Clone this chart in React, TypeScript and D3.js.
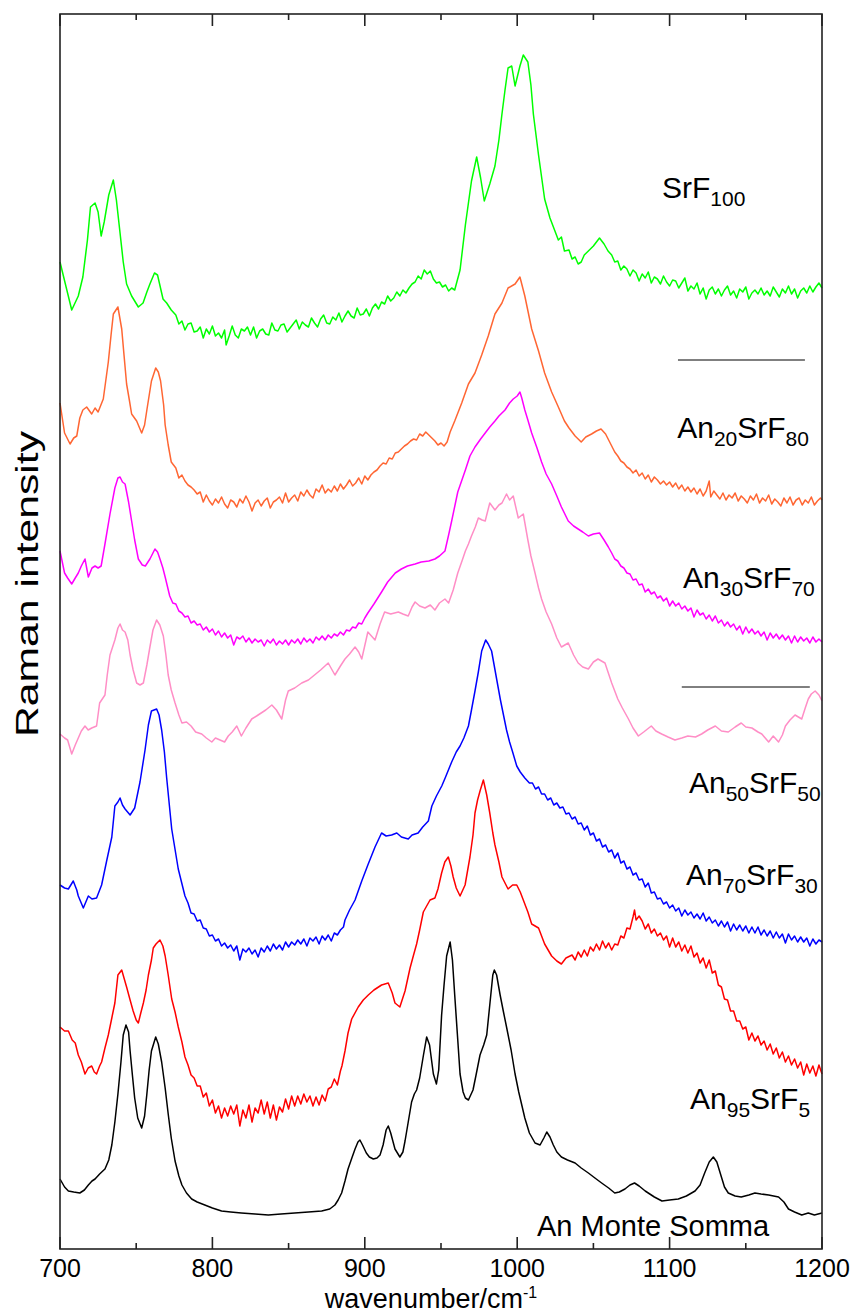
import React from "react";
import * as d3 from "d3";

const FONT = "'Liberation Sans', Arial, Helvetica, sans-serif";

// [wavenumber (cm-1), Raman intensity (arb., stacked)]
const srf100: [number, number][] = [
  [700,987],[704,962],[707.7,939],[712,953],[715,972],[718,1009],[720,1042],[723,1046],[725,1037],[727,1013],[729,1027],[732,1054],[735,1069],[737,1049],[739.4,1016],[741.5,987],[743.7,965],[747,953],[751.4,942],[754.5,946],[757,957],[759,965],[762,976],[764,974],[767.6,950],[770,946],[773,939],
  [776,934],[778,925],[780,928],[782,919],[784,925],[786,926],[788,917],[790,918],[792,922],[794,911],[796,920],[798,915],[800,923],[802,913],[804,916],[806,911],[808,919],[809,904],[811,913],[813,923],[815,914],[817,911],[819,920],[821,918],[823,922],[825,914],[827,922],[829,911],[831,918],[833,920],[835,915],[837,914],[839,926],[841,919],[843,918],[845,924],[847,925],[849,917],[851,921],[853,925],[855,929],[857,920],[859,927],[861,924],[863,922],[865,931],[867,926],[869,922],[871,930],[873,934],[875,926],[877,925],[879,932],[881,929],[883,936],[885,927],[887,933],[889,938],[891,933],[893,931],[895,941],[897,934],[899,935],[901,940],[903,933],[905,941],[907,945],[909,940],[911,947],[913,945],[915,953],[917,948],[919,951],[921,957],[923,953],[925,959],[927,956],[929,961],[931,965],[933,967],[935,973],[937,970],[939,979],[941,975],[943,978],[945,970],[947,966],[949,967],[951,962],[953,964],[955,958],[957,961],[959,959],
  [962.5,979],[966,1024],[970,1068],[973.4,1092],[976,1071],[978.4,1048],[982,1065],[985.4,1083],[988,1109],[990,1135],[992,1159],[994,1181],[996.4,1183],[998.6,1163],[1001.8,1183],[1004,1194],[1007,1187],[1009,1164],[1010.6,1135],[1014,1094],[1018,1050],[1021.5,1031],[1024,1021],[1027,1009],[1029,1012],[1031,998],[1034,999],[1036,990],[1038,992],[1040,985],[1042,987],[1044,994],[1046.7,998],[1050,1003],[1054,1011],[1057,1005],[1059.6,998],
  [1062,994],[1064,987],[1066,988],[1068,979],[1070,983],[1072,980],[1074,973],[1076,979],[1078,976],[1080,968],[1082,975],[1084,971],[1086,977],[1088,966],[1090,972],[1092,970],[1094,965],[1096,973],[1098,967],[1100,963],[1102,969],[1104,968],[1106,961],[1108,966],[1110,971],[1112,958],[1114,963],[1116,960],[1118,966],[1120,955],[1122,961],[1124,950],[1126,959],[1128,962],[1130,955],[1132,960],[1134,953],[1136,959],[1138,963],[1140,954],[1142,958],[1144,951],[1146,960],[1148,957],[1150,962],[1152,950],[1154,956],[1156,959],[1158,955],[1160,961],[1162,954],[1164,958],[1166,953],[1168,962],[1170,957],[1172,952],[1174,960],[1176,956],[1178,963],[1180,955],[1182,960],[1184,951],[1186,958],[1188,961],[1190,956],[1192,963],[1194,957],[1196,962],[1198,966],[1200,961]
];

const an20: [number, number][] = [
  [700,846],[703,816],[706.6,805],[709,811],[711,813],[713,831],[715,839],[717.5,842],[720.8,835],[723,841],[725,837],[728.4,850],[731.7,887],[733.5,914],[735,935],[738,942],[740.5,920],[742,894],[743.7,865],[745.5,849],[747,835],[750.3,828],[753.6,816],[755.5,824],[757,839],[760,868],[762.8,881],[764.5,877],[766,868],[768,844],[769,824],[771,804],[773,787],
  [776,781],[778,771],[780,774],[782,768],[784,764],[786,762],[788,759],[790,755],[792,757],[794,747],[796,754],[798,748],[800,744],[802,750],[804,746],[806,752],[808,745],[810,741],[812,749],[814,747],[816,742],[818,750],[820,746],[822,753],[824,747],[826,738],[828,746],[830,749],[832,743],[834,748],[836,751],[838,741],[840,747],[842,749],[844,752],[846,746],[848,756],[850,747],[852,751],[854,754],[856,748],[858,757],[860,753],[862,759],[864,754],[866,751],[868,760],[870,757],[872,764],[874,756],[876,760],[878,757],[880,763],[882,758],[884,765],[886,760],[888,764],[890,769],[892,763],[894,766],[896,771],[898,765],[900,773],[902,769],[904,774],[906,777],[908,779],[910,783],[912,786],[914,785],[916,791],[918,790],[920,796],[922,797],[924,800],[926,803],[928,805],[930,808],[932,810],[934,809],[936,815],[938,813],[940,817],[942,814],[944,811],[946,808],[948,804],[950,806],[952,803],[954,807],
  [956,817],[959,828],[963.6,846],[968,865],[972.3,876],[976.7,894],[981,913],[985.4,935],[990,946],[994,961],[998.6,965],[1001.8,972],[1005,953],[1009.5,920],[1014,898],[1018,876],[1022.6,857],[1027,842],[1031,828],[1034,821],[1038,813],[1042,807],[1045,812],[1048.8,815],[1052,818],[1055,820],[1058,815],
  [1062,803],[1064,797],[1066,793],[1068,788],[1070,786],[1072,782],[1074,780],[1076,776],[1078,779],[1080,773],[1082,776],[1084,770],[1086,774],[1088,767],[1090,772],[1092,769],[1094,765],[1096,768],[1098,764],[1100,767],[1102,762],[1104,766],[1106,760],[1108,764],[1110,758],[1112,762],[1114,757],[1116,761],[1118,755],[1120,760],[1122,753],[1124,758],[1126,768],[1127,752],[1129,758],[1131,754],[1133,750],[1135,756],[1137,749],[1139,754],[1141,751],[1143,756],[1145,748],[1147,753],[1149,750],[1151,746],[1153,753],[1155,749],[1157,755],[1159,746],[1161,751],[1163,748],[1165,754],[1167,745],[1169,750],[1171,747],[1173,743],[1175,751],[1177,746],[1179,752],[1181,744],[1183,749],[1185,751],[1187,744],[1189,749],[1191,746],[1193,752],[1195,744],[1197,748],[1199,751],[1200,749]
];

const an30: [number, number][] = [
  [700,698],[703,676],[705,671],[707.7,665],[710,671],[712,676],[714,683],[716.4,690],[718.6,672],[721,681],[723,683],[725,681],[727,683],[729.5,705],[732.8,735],[736,761],[738,771],[739.4,772],[741,767],[742.7,765],[745,747],[747,728],[749,709],[751.4,690],[754,684],[756,683],[759,690],[762.3,700],[764,697],[765.6,690],[767.5,681],[769,672],
  [772,653],[774,646],[776,645],[778,638],[780,636],[782,632],[784,633],[786,626],[788,628],[790,624],[792,625],[794,619],[796,622],[798,617],[800,620],[802,614],[804,618],[806,612],[808,616],[810,611],[812,614],[814,604],[816,612],[818,610],[820,613],[822,607],[824,611],[826,606],[828,610],[830,607],[832,609],[834,603],[836,609],[838,606],[840,610],[842,604],[844,608],[846,605],[848,609],[850,604],[852,609],[854,606],[856,610],[858,605],[860,611],[862,607],[864,610],[866,606],[868,612],[870,609],[872,613],[874,609],[876,614],[878,611],[880,615],[882,613],[884,617],[886,614],[888,619],[890,618],[892,622],[894,621],[896,626],[898,625],[900,631],
  [902,636],[906,645],[911,657],[915,667],[920,676],[924,680],[928,683],[933,685],[937,687],[942,688],[946,690],[949,693],[952.6,698],[955,714],[957,728],[961,757],[966,779],[969,793],[972.3,802],[976,810],[979,816],[982,822],[985.4,828],[988,833],[992,839],[995,846],[997.4,850],[1000,853],[1001.8,857],[1003,851],[1005,839],[1007,829],[1009.5,816],[1013,801],[1016,787],[1019,775],[1022.6,765],[1026,753],[1029,742],[1033.5,728],[1037,723],[1040,720],[1043,717],[1046.7,713],[1050,715],[1054,716],[1057,709],[1059.8,702],
  [1062,696],[1064,690],[1066,688],[1068,683],[1070,681],[1072,676],[1074,675],[1076,669],[1078,670],[1080,664],[1082,665],[1084,657],[1086,660],[1088,655],[1090,657],[1092,651],[1094,653],[1096,648],[1098,651],[1100,643],[1102,648],[1104,643],[1106,646],[1108,640],[1110,643],[1112,638],[1114,641],[1116,632],[1118,639],[1120,634],[1122,636],[1124,630],[1126,634],[1128,628],[1130,633],[1132,626],[1134,629],[1136,623],[1138,627],[1140,622],[1142,625],[1144,619],[1146,623],[1148,615],[1150,622],[1152,616],[1154,620],[1156,615],[1158,618],[1160,613],[1162,617],[1164,609],[1166,616],[1168,611],[1170,615],[1172,610],[1174,614],[1176,609],[1178,613],[1180,606],[1182,613],[1184,607],[1186,612],[1188,608],[1190,611],[1192,606],[1194,612],[1196,607],[1198,610],[1200,607]
];

const an50: [number, number][] = [
  [700,515],[703,511],[705,509],[707.7,495],[710,504],[712,511],[714,518],[716.4,523],[718.5,519],[720.8,521],[724,523],[726,546],[729.5,554],[731,574],[732.8,594],[736,609],[738,621],[739.4,625],[741,619],[742.7,617],[744.5,609],[746,594],[748,579],[750.3,566],[752.5,564],[754.7,566],[757,584],[759,602],[761,619],[763.4,629],[765.5,624],[767.8,613],[769.5,594],[771,574],[773,559],[775.5,546],[778,534],[780,526],[783,527],[786,523],[789,517],[793,515],[796,511],[799.6,507],[802,511],[805,509],[808,507],[810.4,513],[813,517],[816,523],[819,513],[822,521],[825.8,530],[829,533],[832,536],[835,539],[839,544],[842,539],[845.5,530],[848,549],[849.8,558],[854,561],[858.6,566],[863,569],[867,574],[871,579],[876,586],[880.4,574],[884,583],[887,590],[890,595],[893.6,602],[896,597],[898,590],[902,617],[906.7,609],[910,625],[913,637],[917,635],[922,637],[925,635],[928.5,633],[931,642],[933,647],[936,643],[939.5,641],[943,644],[946,639],[949,646],[952.6,650],[955,646],[958,659],[961,676],[964,689],[966,698],[968,705],[970,713],[972.5,722],[974.5,731],[977,729],[979,728],[982,746],[985.4,739],[988,744],[990,746],[993,755],[995,749],[997.4,753],[1000.7,731],[1004,735],[1007,709],[1009,693],[1011.7,676],[1014,661],[1016,650],[1019,637],[1022.6,625],[1026,611],[1029,602],[1033.5,606],[1037,594],[1040,586],[1043,582],[1046.7,580],[1050,587],[1053,590],[1057.6,586],[1062,566],[1066,550],[1069,541],[1073,530],[1076,521],[1079.5,513],[1083,517],[1088,523],[1091,518],[1094.8,515],[1099,512],[1103.5,509],[1108,511],[1112,513],[1117,512],[1121,515],[1125,519],[1130,523],[1134,518],[1138.5,517],[1143,522],[1147,526],[1150,522],[1154,521],[1158,517],[1160.5,515],[1165,507],[1168,513],[1171.5,507],[1174,514],[1176,523],[1179,529],[1182.3,534],[1186.7,530],[1189,541],[1191,550],[1193,555],[1195.5,558],[1198,554],[1200,548]
];

const an70: [number, number][] = [
  [700,364],[703,361],[705.5,360],[708.7,368],[711,359],[712,353],[715.3,341],[718.6,353],[721,350],[724,351],[727.3,364],[730.6,388],[734,412],[736,443],[738,447],[739.4,451],[741,444],[742.7,440],[746,434],[749,441],[752.5,467],[755.8,499],[758,524],[760,538],[763.4,540],[765,534],[766.7,519],[768.5,497],[770,471],[773.3,420],[777.6,380],[782,353],
  [784,346],[786,336],[788,335],[790,328],[792,329],[794,321],[796,320],[798,313],[800,314],[802,308],[804,310],[806,303],[808,306],[810,301],[812,304],[814,298],[816,303],[818,289],[820,300],[822,297],[824,301],[826,295],[828,299],[830,292],[832,301],[834,297],[836,303],[838,298],[840,305],[842,300],[844,304],[846,299],[848,307],[850,302],[852,307],[854,304],[856,309],[858,305],[860,310],[862,303],[864,311],[866,308],[868,312],[870,305],[872,313],[874,309],[876,314],[878,308],[880,316],[882,314],[884,319],[886,322],
  [887,329],[890,339],[893.6,349],[898,368],[902,384],[906.7,402],[911,416],[914,413],[917.6,414],[921,416],[924,412],[928.5,410],[931,414],[935,416],[938,422],[941.7,428],[944,443],[947,453],[950.5,463],[953,472],[957,487],[960,497],[962.5,503],[965,511],[968,523],[970,539],[972.3,558],[974.5,577],[976.7,598],[979.3,609],[981,605],[983.2,598],[986.5,570],[989,549],[991,534],[993,519],[995,507],[997,497],[999.7,483],[1002,477],[1005,471],[1008,466],
  [1010,466],[1012,460],[1014,462],[1016,455],[1018,455],[1020,449],[1022,451],[1024,444],[1026,446],[1028,441],[1030,442],[1032,435],[1034,436],[1036,430],[1038,432],[1040,425],[1042,426],[1044,419],[1046,423],[1048,414],[1050,416],[1052,408],[1054,410],[1056,402],[1058,404],[1060,397],[1062,399],[1064,391],[1066,396],[1068,386],[1070,388],[1072,380],[1074,382],[1076,374],[1078,376],[1080,369],[1082,370],[1084,362],[1086,366],[1088,356],[1090,357],[1092,350],[1094,351],[1096,345],[1098,347],[1100,341],[1102,344],[1104,338],[1106,341],[1108,333],[1110,339],[1112,334],[1114,337],[1116,331],[1118,335],[1120,330],[1122,336],[1124,328],[1126,332],[1128,326],[1130,329],[1132,323],[1134,328],[1136,322],[1138,327],[1140,318],[1142,325],[1144,319],[1146,324],[1148,318],[1150,323],[1152,316],[1154,322],[1156,316],[1158,322],[1160,314],[1162,319],[1164,313],[1166,318],[1168,311],[1170,317],[1172,311],[1174,315],[1176,306],[1178,315],[1180,309],[1182,313],[1184,307],[1186,312],[1188,307],[1190,311],[1192,303],[1194,310],[1196,305],[1198,309],[1200,307]
];

const an95: [number, number][] = [
  [700,222],[703,218],[705.5,218],[708,209],[710,206],[712,194],[714,187],[716.4,175],[718.5,181],[720.8,183],[722.5,177],[724,175],[726,183],[727.3,187],[729.5,201],[731.7,214],[734,231],[736,246],[738,274],[740.5,279],[742,271],[743.7,262],[746,249],[748,238],[750,229],[751.4,226],[753,236],[754.7,246],[756.5,259],[758,274],[760,289],[761.2,301],[763,305],[765.6,309],[767.5,303],[769,293],[771,274],[773.3,250],[775.5,237],[777.6,222],
  [780,207],[782,192],[784,184],[786,174],[788,171],[790,163],[792,163],[794,152],[796,156],[798,143],[800,149],[802,136],[804,143],[806,131],[808,141],[810,133],[812,143],[814,135],[816,144],[818,123],[820,139],[822,131],[824,144],[826,127],[828,141],[830,136],[832,149],[834,135],[836,147],[838,131],[840,144],[842,129],[844,142],[846,137],[848,150],[850,140],[852,153],[854,143],[856,153],[858,145],[860,155],[862,147],[864,153],[866,143],[868,152],[870,144],[872,154],[874,148],[876,160],[878,162],[880,170],[882,164],[884,178],
  [885,183],[887,198],[889,216],[891.4,230],[895.7,242],[899,249],[902.3,254],[906,259],[911,264],[915.4,266],[918,256],[919.8,246],[923,242],[926.4,258],[929.7,281],[932,294],[934,305],[936,319],[938.4,337],[942.8,349],[946,351],[948,360],[950.4,376],[952.5,387],[954.8,392],[956.5,383],[958,372],[960,361],[962.5,353],[965.8,364],[969,392],[971,414],[972.3,436],[974,449],[975.8,459],[977.8,469],[980,454],[982,436],[984,416],[985.4,404],[988,387],[990,372],[994,360],[997,364],[999.7,364],[1002,357],[1004,349],[1007,337],[1009.5,325],[1014,321],[1018,305],[1022.6,293],[1026,288],[1029,285],[1032,291],
  [1036,294],[1038,289],[1040,297],[1042,292],[1044,299],[1046,293],[1048,302],[1050,298],[1052,305],[1054,299],[1056,308],[1058,301],[1060,306],[1062,299],[1064,305],[1066,304],[1068,313],[1070,311],[1072,321],[1074,320],[1076,332],[1077,339],[1078,329],[1080,333],
  [1082,328],[1084,320],[1086,325],[1088,316],[1090,320],[1092,313],[1094,316],[1096,309],[1098,313],[1100,302],[1102,311],[1104,302],[1106,307],[1108,298],[1110,304],[1112,296],[1114,303],[1116,292],[1118,296],[1120,286],[1122,291],[1124,281],[1126,289],[1128,276],[1130,278],[1132,264],[1134,262],[1136,250],[1138,249],[1140,238],[1142,238],[1144,228],[1146,228],[1148,220],[1150,222],[1152,209],[1154,216],[1156,208],[1158,213],[1160,204],[1162,208],[1164,199],[1166,205],[1168,195],[1170,201],[1172,191],[1174,197],[1176,187],[1178,193],[1180,184],[1182,190],[1184,181],[1186,187],[1188,174],[1190,185],[1192,176],[1194,183],[1196,173],[1198,184],[1200,175]
];

const monteSomma: [number, number][] = [
  [700,70],[703,62],[705.5,58],[709,57],[713,56],[716,59],[718.6,64],[721,68],[723,70],[726,75],[729.5,80],[732,89],[734,104],[736,127],[738,155],[740,187],[741.5,214],[743.3,224],[745,217],[746,198],[747.5,174],[749,151],[751,131],[753.6,121],[755.5,133],[757,155],[758.5,179],[760,198],[762.8,212],[764.5,205],[766.7,187],[769,161],[771,135],[773,111],[775.5,88],[778,73],[780,64],[783,56],[786.4,50],[790,47],[795,44],[800,41],[806,38],[812,37],[819,36],[828,35],[836.7,34],[845,35],[854,36],[863,37],[871.7,38],[877,40],[880.4,44],[882.5,49],[884.8,56],[887,68],[889,80],[891.5,91],[893.6,100],[895.5,107],[896.8,109],[898.5,104],[901,96],[903,92],[905.6,90],[908,91],[910,94],[912,104],[914,119],[915.4,123],[917,116],[919.8,100],[923,92],[925,97],[926.4,108],[928.5,127],[930.7,147],[932.5,155],[934,159],[936,171],[938.5,194],[940.6,212],[942.5,204],[945,175],[947,165],[948.5,179],[950.4,234],[952,264],[953.7,293],[956,307],[957.5,289],[959,254],[961,209],[962.5,175],[964.5,157],[966,151],[968,149],[971,159],[973,174],[975.6,194],[978,204],[980,214],[982,244],[984,274],[985,279],[986.5,274],[988.8,254],[991,237],[993,222],[996,199],[998.6,175],[1001,157],[1005,131],[1008,116],[1011.7,106],[1015,104],[1017.5,111],[1019.4,117],[1021.5,112],[1023.7,104],[1026,97],[1029,92],[1033,89],[1038,86],[1042,81],[1046.7,76],[1051,71],[1055.4,66],[1060,61],[1064,56],[1067,57],[1070.7,60],[1074,64],[1077,66],[1080,63],[1084,58],[1090,52],[1095,48],[1100,49],[1105.7,50],[1111,53],[1116.7,58],[1120,64],[1123,76],[1126,87],[1128.7,92],[1131,87],[1134,72],[1136,62],[1138.5,56],[1143,53],[1147,52],[1152,54],[1156,56],[1160,55],[1165,54],[1171.5,52],[1175,47],[1178,40],[1182,37],[1186.7,34],[1191,36],[1195,34],[1200,36]
];

const seriesData = [srf100, an20, an30, an50, an70, an95, monteSomma];
const seriesColors = ["#00ff00", "#ff6633", "#ff00ff", "#ff8ec6", "#0000ff", "#ff0000", "#000000"];

// label parts: [text, isSubscript]
const labelParts: [string, boolean][][] = [
  [["SrF", false], ["100", true]],
  [["An", false], ["20", true], ["SrF", false], ["80", true]],
  [["An", false], ["30", true], ["SrF", false], ["70", true]],
  [["An", false], ["50", true], ["SrF", false], ["50", true]],
  [["An", false], ["70", true], ["SrF", false], ["30", true]],
  [["An", false], ["95", true], ["SrF", false], ["5", true]],
  [["An Monte Somma", false]],
];
// label anchor [wavenumber, intensity] (left edge, baseline)
const labelPos: [number, number][] = [
  [1095, 1051], [1105, 811], [1108.8, 661], [1112.7, 456], [1110.8, 364], [1113.4, 140], [1013, 13],
];
// separator lines [x1, x2, intensity]
const sepLines: [number, number, number][] = [
  [1105.5, 1188.8, 889],
  [1108, 1192, 562],
];

const xMajorTicks = [700, 800, 900, 1000, 1100, 1200];
const xMinorTicks = [750, 850, 950, 1050, 1150];

const W = 850, H = 1314;
const M = { left: 60, right: 822, top: 14, bottom: 1249 };

export default function App() {
  const x = d3.scaleLinear().domain([700, 1200]).range([M.left, M.right]);
  const y = d3.scaleLinear().domain([0, 1235]).range([M.bottom, M.top]);
  const line = d3.line<[number, number]>().x((d) => x(d[0])).y((d) => y(d[1]));

  return (
    <svg width={W} height={H} style={{ position: "absolute", left: 0, top: 0, background: "#fff" }} fontFamily={FONT}>
      <rect x={0} y={0} width={W} height={H} fill="#fff" />
      {seriesData.map((s, i) => (
        <path key={i} d={line(s) || ""} fill="none" stroke={seriesColors[i]} strokeWidth={1.5} strokeLinejoin="round" />
      ))}
      {sepLines.map((l, i) => (
        <line key={i} x1={x(l[0])} x2={x(l[1])} y1={y(l[2])} y2={y(l[2])} stroke="#000" strokeWidth={1} />
      ))}
      {labelParts.map((parts, i) => (
        <text key={i} x={x(labelPos[i][0])} y={y(labelPos[i][1])} fontSize={i === 6 ? 29 : 30} fill="#000">
          {parts.map((p, j) =>
            p[1] ? (
              <tspan key={j} fontSize={21} dy={8}>{p[0]}</tspan>
            ) : (
              <tspan key={j} dy={j > 0 ? -8 : 0}>{p[0]}</tspan>
            )
          )}
        </text>
      ))}
      {/* frame */}
      <rect x={M.left} y={M.top} width={M.right - M.left} height={M.bottom - M.top} fill="none" stroke="#222" strokeWidth={1.6} />
      {xMajorTicks.map((t) => (
        <g key={"M" + t}>
          <line x1={x(t)} x2={x(t)} y1={M.bottom} y2={M.bottom - 12} stroke="#222" strokeWidth={1.6} />
          <line x1={x(t)} x2={x(t)} y1={M.top} y2={M.top + 12} stroke="#222" strokeWidth={1.6} />
          <text x={x(t)} y={1277} fontSize={25} textAnchor="middle" fill="#000">{t}</text>
        </g>
      ))}
      {xMinorTicks.map((t) => (
        <g key={"m" + t}>
          <line x1={x(t)} x2={x(t)} y1={M.bottom} y2={M.bottom - 6} stroke="#222" strokeWidth={1.6} />
          <line x1={x(t)} x2={x(t)} y1={M.top} y2={M.top + 6} stroke="#222" strokeWidth={1.6} />
        </g>
      ))}
      <text x={431} y={1308} fontSize={27} textAnchor="middle" fill="#000">
        wavenumber/cm<tspan fontSize={16} dy={-10}>-1</tspan>
      </text>
      <text transform="translate(38,584) rotate(-90)" fontSize={31} textAnchor="middle" textLength={306} lengthAdjust="spacingAndGlyphs" fill="#000">
        Raman intensity
      </text>
    </svg>
  );
}
